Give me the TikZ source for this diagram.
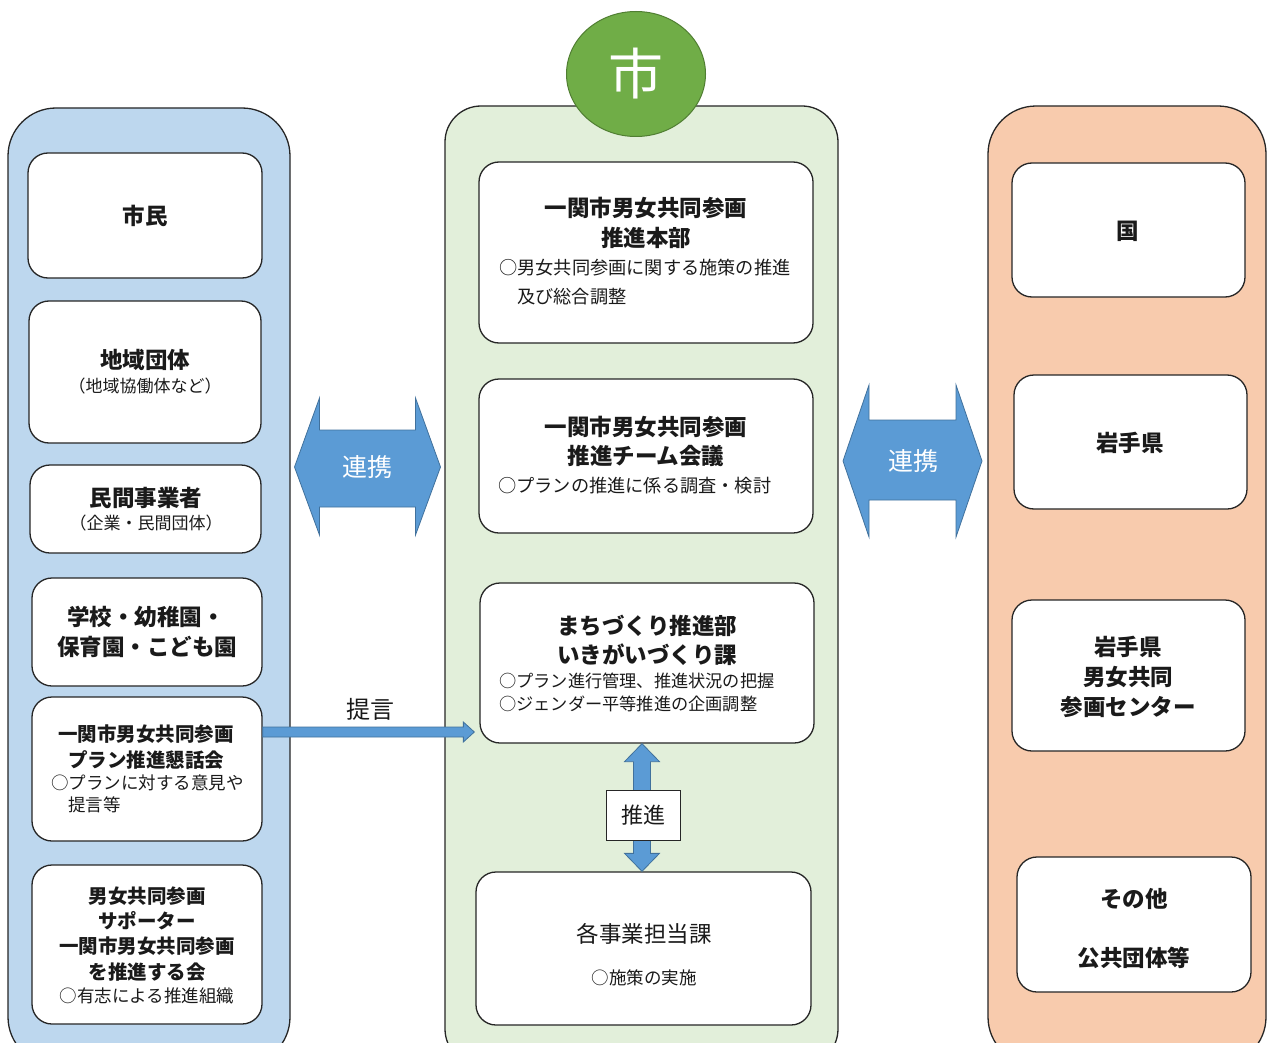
\documentclass[tikz,border=0pt]{standalone}
\usepackage{fontspec}
\setmainfont{Noto Sans CJK JP}
\usetikzlibrary{shapes.geometric,calc}
\definecolor{pblue}{HTML}{BDD7EE}
\definecolor{pgreen}{HTML}{E2EFDA}
\definecolor{porange}{HTML}{F8CBAD}
\definecolor{abl}{HTML}{5B9BD5}
\definecolor{abld}{HTML}{41719C}
\definecolor{cgreen}{HTML}{70AD47}
\definecolor{cgreend}{HTML}{507E32}
\definecolor{ink}{HTML}{1A1A1A}
\definecolor{edge}{HTML}{262626}
\newcommand\fsT{\fontsize{22.5}{26}\selectfont\bfseries}
\newcommand\fsTs{\fontsize{19.5}{23}\selectfont\bfseries}
\newcommand\fsS{\fontsize{17.5}{21}\selectfont}
\newcommand\fsM{\fontsize{18.2}{21}\selectfont}
\newcommand\fsN{\fontsize{17.2}{21}\selectfont}
\newcommand\fsP{\fontsize{17}{20}\selectfont}
\begin{document}
\begin{tikzpicture}[x=1pt,y=-1pt,
  panel/.style={draw=edge,line width=1.3pt,rectangle,inner sep=0pt},
  box/.style={draw=edge,fill=white,line width=1.3pt,rounded corners=20pt,rectangle,inner sep=0pt},
  ttl/.style={inner sep=0pt,text=ink,font=\fsT},
  ttls/.style={inner sep=0pt,text=ink,font=\fsTs},
  sub/.style={inner sep=0pt,text=ink,font=\fsS},
  subm/.style={inner sep=0pt,text=ink,font=\fsM},
  subn/.style={inner sep=0pt,text=ink,font=\fsN},
  subp/.style={inner sep=0pt,text=ink,font=\fsP},
  barrow/.style={fill=abl,draw=abld,line width=0.8pt,line join=miter},
  wlabel/.style={inner sep=0pt,text=white,font=\fontsize{25}{28}\selectfont},
]
\useasboundingbox (0,0) rectangle (1268,1043);
\clip (0,0) rectangle (1268,1043);
\fill[white] (0,0) rectangle (1268,1043);

% panels
\node[panel,fill=pblue,rounded corners=48pt,minimum width=282pt,minimum height=957pt] (pl) at (149,586.5) {};
\node[panel,fill=pgreen,rounded corners=36pt,minimum width=393pt,minimum height=959pt] (pm) at (641.5,585.5) {};
\node[panel,fill=porange,rounded corners=48pt,minimum width=278pt,minimum height=959pt] (pr) at (1127,585.5) {};

% city circle
\node[ellipse,fill=cgreen,draw=cgreend,line width=1pt,minimum width=139pt,minimum height=125pt,inner sep=0pt,
      text=white,font=\fontsize{55}{60}\selectfont] (city) at (636,74) {市};

% left boxes
\node[box,minimum width=234pt,minimum height=125pt] (l1) at (145,215.5) {};
\node[box,minimum width=232pt,minimum height=142pt] (l2) at (145,372) {};
\node[box,minimum width=231pt,minimum height=88pt] (l3) at (145.5,509) {};
\node[box,minimum width=230pt,minimum height=108pt] (l4) at (147,632) {};
\node[box,minimum width=230pt,minimum height=144pt] (l5) at (147,769) {};
\node[box,minimum width=230pt,minimum height=159pt] (l6) at (147,944.5) {};

\node[ttl] (l1a) at (145,216) {市民};
\node[ttl] (l2a) at (145,360) {地域団体};
\node[subp] (l2b) at (145,386) {（地域協働体など）};
\node[ttl] (l3a) at (146,498) {民間事業者};
\node[subp] (l3b) at (146,523) {（企業・民間団体）};
\node[ttl] (l4a) at (146,617) {学校・幼稚園・};
\node[ttl] (l4b) at (147,647) {保育園・こども園};
\node[ttls] (l5a) at (146,734) {一関市男女共同参画};
\node[ttls] (l5b) at (146,760) {プラン推進懇話会};
\node[sub,anchor=west] (l5c) at (51,783) {○プランに対する意見や};
\node[sub,anchor=west] (l5d) at (68,805) {提言等};
\node[ttls] (l6a) at (147,896) {男女共同参画};
\node[ttls] (l6b) at (147,921) {サポーター};
\node[ttls] (l6c) at (147,946) {一関市男女共同参画};
\node[ttls] (l6d) at (147,972) {を推進する会};
\node[sub] (l6e) at (147,996) {○有志による推進組織};

% middle boxes
\node[box,minimum width=334pt,minimum height=181pt] (m1) at (646,252.5) {};
\node[box,minimum width=334pt,minimum height=154pt] (m2) at (646,456) {};
\node[box,minimum width=334pt,minimum height=160pt] (m3) at (647,663) {};
\node[box,minimum width=335pt,minimum height=153pt] (m4) at (643.5,948.5) {};

\node[ttl] (m1a) at (646,208) {一関市男女共同参画};
\node[ttl] (m1b) at (646,238) {推進本部};
\node[subm,anchor=west] (m1c) at (499,268) {○男女共同参画に関する施策の推進};
\node[subm,anchor=west] (m1d) at (517,297) {及び総合調整};
\node[ttl] (m2a) at (646,427) {一関市男女共同参画};
\node[ttl] (m2b) at (646,456) {推進チーム会議};
\node[subm,anchor=west] (m2c) at (498,486) {○プランの推進に係る調査・検討};
\node[ttl] (m3a) at (647,626) {まちづくり推進部};
\node[ttl] (m3b) at (647,655) {いきがいづくり課};
\node[subn,anchor=west] (m3c) at (499,681) {○プラン進行管理、推進状況の把握};
\node[subn,anchor=west] (m3d) at (499,704) {○ジェンダー平等推進の企画調整};
\node[inner sep=0pt,text=ink,font=\fontsize{22.5}{26}\selectfont] (m4a) at (644,934) {各事業担当課};
\node[sub] (m4b) at (644,978) {○施策の実施};

% right boxes
\node[box,minimum width=233pt,minimum height=134pt] (r1) at (1128.5,230) {};
\node[box,minimum width=233pt,minimum height=134pt] (r2) at (1130.5,442) {};
\node[box,minimum width=233pt,minimum height=151pt] (r3) at (1128.5,675.5) {};
\node[box,minimum width=234pt,minimum height=135pt] (r4) at (1134,924.5) {};

\node[ttl] (r1a) at (1128,231) {国};
\node[ttl] (r2a) at (1130,443) {岩手県};
\node[ttl] (r3a) at (1128,647) {岩手県};
\node[ttl] (r3b) at (1128,677) {男女共同};
\node[ttl] (r3c) at (1128,707) {参画センター};
\node[ttl] (r4a) at (1134,899) {その他};
\node[ttl] (r4b) at (1134,958) {公共団体等};

% left cooperation double arrow (between pl and pm)
\coordinate (lk) at ($(pl.east)!0.5!(pm.west)$);
\coordinate (lkc) at (lk |- 0,467);
\path[barrow] ($(lkc)+(-73,0)$) -- ($(lkc)+(-48,-69)$) -- ($(lkc)+(-48,-37)$) -- ($(lkc)+(48,-37)$)
  -- ($(lkc)+(48,-69)$) -- ($(lkc)+(73,0)$) -- ($(lkc)+(48,68)$) -- ($(lkc)+(48,40)$)
  -- ($(lkc)+(-48,40)$) -- ($(lkc)+(-48,68)$) -- cycle;
\node[wlabel] (lkt) at (lkc) {連携};

% right cooperation double arrow (between pm and pr)
\coordinate (rk) at ($(pm.east)!0.5!(pr.west)$);
\coordinate (rkc) at (rk |- 0,461);
\path[barrow] ($(rkc)+(-70,0)$) -- ($(rkc)+(-44,-76)$) -- ($(rkc)+(-44,-41)$) -- ($(rkc)+(43,-41)$)
  -- ($(rkc)+(43,-76)$) -- ($(rkc)+(69,0)$) -- ($(rkc)+(43,76)$) -- ($(rkc)+(43,39)$)
  -- ($(rkc)+(-44,39)$) -- ($(rkc)+(-44,76)$) -- cycle;
\node[wlabel] (rkt) at (rkc) {連携};

% proposal arrow l5 -> m3
\coordinate (ts) at (l5.east |- 0,732);
\coordinate (te) at ($(m3.west |- 0,732)+(-5,0)$);
\path[barrow] ($(ts)+(0,-5)$) -- ($(te)+(-11,-5)$) -- ($(te)+(-11,-10)$) -- (te)
  -- ($(te)+(-11,10)$) -- ($(te)+(-11,5)$) -- ($(ts)+(0,5)$) -- cycle;
\node[inner sep=0pt,text=ink,font=\fontsize{24}{28}\selectfont] (tg) at (370,709) {提言};

% promotion arrow m3 <-> m4
\coordinate (ua) at (m3.south -| 642,0);
\coordinate (ub) at (m4.north -| 642,0);
\path[barrow] (ua) -- ($(ua)+(17.5,18)$) -- ($(ua)+(8.5,18)$) -- ($(ub)+(8.5,-18)$) -- ($(ub)+(17.5,-18)$)
  -- (ub) -- ($(ub)+(-17.5,-18)$) -- ($(ub)+(-8.5,-18)$) -- ($(ua)+(-8.5,18)$) -- ($(ua)+(-17.5,18)$) -- cycle;
\node[draw=edge,fill=white,line width=1pt,minimum width=74pt,minimum height=50pt,inner sep=0pt,
      text=ink,font=\fontsize{22}{26}\selectfont] (sx) at (643,815) {推進};
\end{tikzpicture}
\end{document}
